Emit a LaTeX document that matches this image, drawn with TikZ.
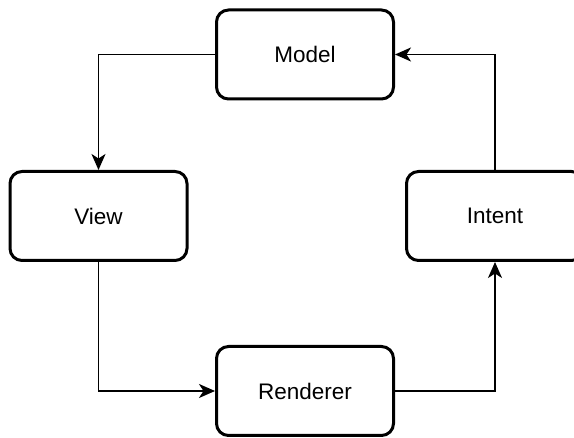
\documentclass[tikz,border=0pt]{standalone}
\usepackage{fontspec}
\setmainfont{Liberation Sans}
\usetikzlibrary{arrows.meta}
\begin{document}
\begin{tikzpicture}[x=1pt,y=-1pt,
  box/.style={draw=black, line width=3pt, rounded corners=12pt, fill=white,
    minimum width=177pt, minimum height=89pt, inner sep=0pt,
    font=\fontsize{22.5pt}{26pt}\selectfont, text=black},
  conn/.style={draw=black, line width=1.8pt, -{Stealth[length=16pt,width=14pt,inset=4.5pt]}}]
\useasboundingbox (0,0) rectangle (574,438);
\node[box] (model) at (305,54.5) {Model};
\node[box] (view) at (98.5,216) {View};
\node[box] (intent) at (495,216) {Intent};
\node[box] (renderer) at (305,391) {Renderer};
\draw[conn] (model.west) -| (view.north);
\draw[conn] (view.south) |- (renderer.west);
\draw[conn] (renderer.east) -| (intent.south);
\draw[conn] (intent.north) |- (model.east);
\end{tikzpicture}
\end{document}
